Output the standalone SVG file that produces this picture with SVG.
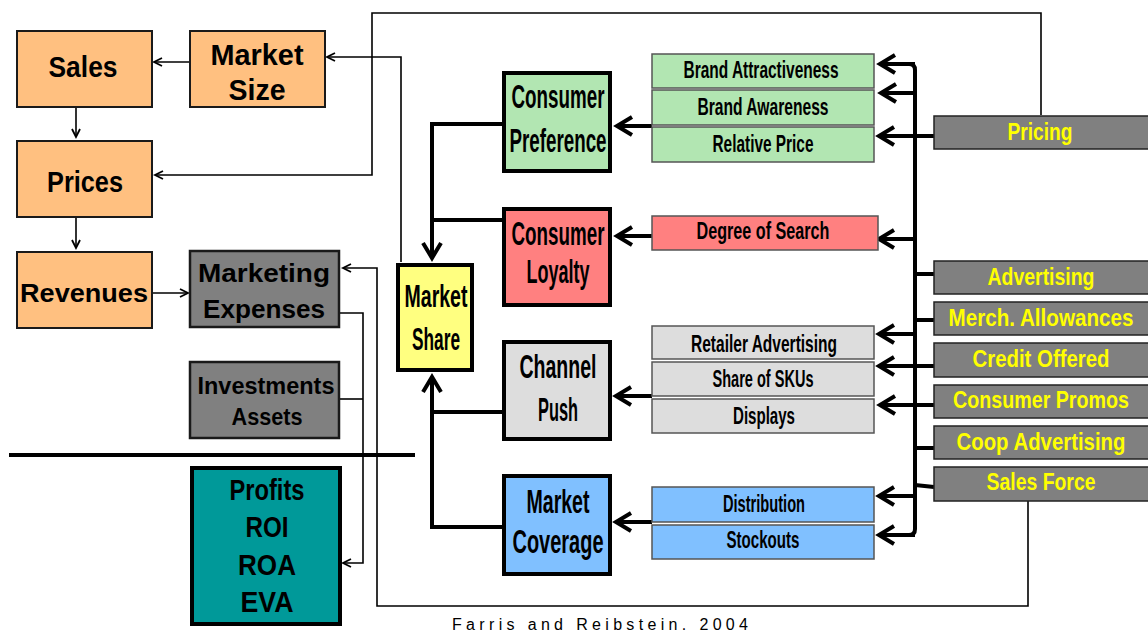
<svg xmlns="http://www.w3.org/2000/svg" width="1148" height="633" viewBox="0 0 1148 633">
  <style>
    .t { font-family: "Liberation Sans", Arial, sans-serif; font-weight: bold; text-anchor: middle; fill: #000; }
    .big { font-size: 29px; }
    .mid { font-size: 26px; }
    .cen { font-size: 34px; }
    .sub { font-size: 23px; }
    .yel { font-size: 24px; fill: #FFFF00; }
    .orange { fill: #FFC080; stroke: #1a1a1a; stroke-width: 2; }
    .grey { fill: #808080; stroke: #1a1a1a; stroke-width: 2.5; }
    .core { stroke: #000; stroke-width: 4; }
    .subbox { stroke: #555; stroke-width: 1.5; }
    .lever { fill: #808080; stroke: #222; stroke-width: 1.5; }
    .thin { fill: none; stroke: #000; stroke-width: 1.6; }
    .thick { fill: none; stroke: #000; stroke-width: 4; }
    .foot { font-family: "Liberation Sans", Arial, sans-serif; font-size: 16px; fill: #000; }
  </style>
  <defs>
    <marker id="ah" markerUnits="userSpaceOnUse" markerWidth="12" markerHeight="12" refX="9" refY="5" orient="auto">
      <path d="M1,1 L9,5 L1,9" fill="none" stroke="#000" stroke-width="1.8"/>
    </marker>
    <marker id="ahb" markerUnits="userSpaceOnUse" markerWidth="22" markerHeight="24" refX="17" refY="11" orient="auto">
      <path d="M2,2 L17,11 L2,20" fill="none" stroke="#000" stroke-width="4"/>
    </marker>
  </defs>

  <rect width="1148" height="633" fill="#fff"/>

  <!-- connectors -->
  <g id="connectors">
    <!-- financial chain -->
    <path class="thin" d="M190,62 H154" marker-end="url(#ah)" stroke-width="2"/>
    <path class="thin" d="M76,107 V137" marker-end="url(#ah)" stroke-width="2"/>
    <path class="thin" d="M76,217 V248" marker-end="url(#ah)" stroke-width="2"/>
    <path class="thin" d="M152,293 H188" marker-end="url(#ah)" stroke-width="2"/>
    <!-- pricing feeds prices -->
    <path class="thin" d="M1041,115 V13 H372 V175 H155" marker-end="url(#ah)"/>
    <!-- market share feeds market size -->
    <path class="thin" d="M401,262 V57 H327" marker-end="url(#ah)"/>
    <!-- sales force feeds marketing expenses -->
    <path class="thin" d="M1028,501 V606 H377 V268 H343" marker-end="url(#ah)"/>
    <!-- expenses and investments feed profits -->
    <path class="thin" d="M339,313 H363 V563 H343" marker-end="url(#ah)"/>
    <path class="thin" d="M339,399 H363"/>
    <!-- separator -->
    <line x1="9" y1="455" x2="415" y2="455" stroke="#000" stroke-width="4"/>

    <!-- drivers into market share -->
    <path class="thick" d="M502,124 H432 V258" marker-end="url(#ahb)"/>
    <path class="thick" d="M502,220 H432"/>
    <path class="thick" d="M502,527 H432 V377" marker-end="url(#ahb)"/>
    <path class="thick" d="M502,412 H432"/>

    <!-- metrics into drivers -->
    <path class="thick" d="M652,126 H617" marker-end="url(#ahb)"/>
    <path class="thick" d="M652,236 H617" marker-end="url(#ahb)"/>
    <path class="thick" d="M652,396 H616" marker-end="url(#ahb)"/>
    <path class="thick" d="M652,522 H616" marker-end="url(#ahb)"/>

    <!-- lever bus -->
    <path class="thick" d="M895,64 H909 Q915,64 915,70 V529 Q915,535 909,535 H895"/>
    <path class="thick" d="M915,64 H880" marker-end="url(#ahb)"/>
    <path class="thick" d="M915,93 H881" marker-end="url(#ahb)"/>
    <path class="thick" d="M915,136 H879" marker-end="url(#ahb)"/>
    <path class="thick" d="M915,239 H879" marker-end="url(#ahb)"/>
    <path class="thick" d="M915,334 H879" marker-end="url(#ahb)"/>
    <path class="thick" d="M915,366 H879" marker-end="url(#ahb)"/>
    <path class="thick" d="M915,405 H880" marker-end="url(#ahb)"/>
    <path class="thick" d="M915,496 H879" marker-end="url(#ahb)"/>
    <path class="thick" d="M915,535 H879" marker-end="url(#ahb)"/>

    <!-- levers onto bus -->
    <path class="thick" d="M915,136 H934"/>
    <path class="thick" d="M915,274 H934"/>
    <path class="thick" d="M915,320 H934"/>
    <path class="thick" d="M915,366 H934"/>
    <path class="thick" d="M915,405 H934"/>
    <path class="thick" d="M915,448 H934"/>
    <path class="thick" d="M915,485 L934,487"/>
  </g>

  <!-- financial outcomes -->
  <g id="sales">
    <rect class="orange" x="17" y="31" width="135" height="76"/>
    <text class="t big" x="83" y="77" textLength="69" lengthAdjust="spacingAndGlyphs">Sales</text>
  </g>
  <g id="market-size">
    <rect class="orange" x="190" y="31" width="135" height="76"/>
    <text class="t big" x="257" y="65" textLength="93" lengthAdjust="spacingAndGlyphs">Market</text>
    <text class="t big" x="257" y="100" textLength="57" lengthAdjust="spacingAndGlyphs">Size</text>
  </g>
  <g id="prices">
    <rect class="orange" x="17" y="141" width="135" height="76"/>
    <text class="t big" x="85" y="192" textLength="76" lengthAdjust="spacingAndGlyphs">Prices</text>
  </g>
  <g id="revenues">
    <rect class="orange" x="17" y="252" width="135" height="76"/>
    <text class="t mid" x="84" y="302" textLength="128" lengthAdjust="spacingAndGlyphs">Revenues</text>
  </g>
  <g id="marketing-expenses">
    <rect class="grey" x="190" y="251" width="149" height="76"/>
    <text class="t mid" x="264" y="282" textLength="132" lengthAdjust="spacingAndGlyphs">Marketing</text>
    <text class="t mid" x="264" y="318" textLength="122" lengthAdjust="spacingAndGlyphs">Expenses</text>
  </g>
  <g id="investments">
    <rect class="grey" x="190" y="362" width="149" height="76"/>
    <text class="t" font-size="23" x="266" y="394" textLength="137" lengthAdjust="spacingAndGlyphs">Investments</text>
    <text class="t" font-size="23" x="267" y="425" textLength="71" lengthAdjust="spacingAndGlyphs">Assets</text>
  </g>
  <g id="profits">
    <rect x="192" y="468" width="148" height="156" fill="#009999" stroke="#000" stroke-width="4"/>
    <text class="t big" x="267" y="500" textLength="75" lengthAdjust="spacingAndGlyphs">Profits</text>
    <text class="t big" x="267" y="537" textLength="43" lengthAdjust="spacingAndGlyphs">ROI</text>
    <text class="t big" x="267" y="575" textLength="58" lengthAdjust="spacingAndGlyphs">ROA</text>
    <text class="t big" x="267" y="612" textLength="53" lengthAdjust="spacingAndGlyphs">EVA</text>
  </g>

  <!-- market share and its drivers -->
  <g id="market-share">
    <rect class="core" x="398" y="265" width="74" height="105" fill="#FFFF80"/>
    <text class="t" font-size="32" x="436" y="307" textLength="63" lengthAdjust="spacingAndGlyphs">Market</text>
    <text class="t" font-size="32" x="436" y="350" textLength="48" lengthAdjust="spacingAndGlyphs">Share</text>
  </g>
  <g id="consumer-preference">
    <rect class="core" x="504" y="73" width="106" height="98" fill="#B2E6B2"/>
    <text class="t cen" x="558" y="108" textLength="93" lengthAdjust="spacingAndGlyphs">Consumer</text>
    <text class="t cen" x="558" y="152" textLength="97" lengthAdjust="spacingAndGlyphs">Preference</text>
  </g>
  <g id="consumer-loyalty">
    <rect class="core" x="504" y="209" width="106" height="96" fill="#FF8080"/>
    <text class="t cen" x="558" y="245" textLength="93" lengthAdjust="spacingAndGlyphs">Consumer</text>
    <text class="t cen" x="558" y="283" textLength="63" lengthAdjust="spacingAndGlyphs">Loyalty</text>
  </g>
  <g id="channel-push">
    <rect class="core" x="504" y="342" width="106" height="97" fill="#DDDDDD"/>
    <text class="t cen" x="558" y="378" textLength="77" lengthAdjust="spacingAndGlyphs">Channel</text>
    <text class="t cen" x="558" y="421" textLength="40" lengthAdjust="spacingAndGlyphs">Push</text>
  </g>
  <g id="market-coverage">
    <rect class="core" x="504" y="476" width="106" height="98" fill="#80C0FF"/>
    <text class="t cen" x="558" y="513" textLength="63" lengthAdjust="spacingAndGlyphs">Market</text>
    <text class="t cen" x="558" y="553" textLength="91" lengthAdjust="spacingAndGlyphs">Coverage</text>
  </g>

  <!-- metrics -->
  <g id="brand-attractiveness">
    <rect class="subbox" x="652" y="54" width="222" height="34" fill="#B2E6B2"/>
    <text class="t sub" x="761" y="78" textLength="155" lengthAdjust="spacingAndGlyphs">Brand Attractiveness</text>
  </g>
  <g id="brand-awareness">
    <rect class="subbox" x="652" y="90" width="222" height="35" fill="#B2E6B2"/>
    <text class="t sub" x="763" y="115" textLength="131" lengthAdjust="spacingAndGlyphs">Brand Awareness</text>
  </g>
  <g id="relative-price">
    <rect class="subbox" x="652" y="127" width="222" height="35" fill="#B2E6B2"/>
    <text class="t sub" x="763" y="152" textLength="101" lengthAdjust="spacingAndGlyphs">Relative Price</text>
  </g>
  <g id="degree-of-search">
    <rect class="subbox" x="652" y="216" width="226" height="34" fill="#FF8080"/>
    <text class="t sub" x="763" y="239" textLength="133" lengthAdjust="spacingAndGlyphs">Degree of Search</text>
  </g>
  <g id="retailer-advertising">
    <rect class="subbox" x="652" y="326" width="222" height="33" fill="#DDDDDD"/>
    <text class="t sub" x="764" y="352" textLength="146" lengthAdjust="spacingAndGlyphs">Retailer Advertising</text>
  </g>
  <g id="share-of-skus">
    <rect class="subbox" x="652" y="362" width="222" height="34" fill="#DDDDDD"/>
    <text class="t sub" x="763" y="387" textLength="101" lengthAdjust="spacingAndGlyphs">Share of SKUs</text>
  </g>
  <g id="displays">
    <rect class="subbox" x="652" y="399" width="222" height="34" fill="#DDDDDD"/>
    <text class="t sub" x="764" y="424" textLength="62" lengthAdjust="spacingAndGlyphs">Displays</text>
  </g>
  <g id="distribution">
    <rect class="subbox" x="652" y="487" width="222" height="35" fill="#80C0FF"/>
    <text class="t sub" x="764" y="512" textLength="82" lengthAdjust="spacingAndGlyphs">Distribution</text>
  </g>
  <g id="stockouts">
    <rect class="subbox" x="652" y="525" width="222" height="34" fill="#80C0FF"/>
    <text class="t sub" x="763" y="548" textLength="73" lengthAdjust="spacingAndGlyphs">Stockouts</text>
  </g>

  <!-- marketing levers -->
  <g id="pricing">
    <rect class="lever" x="934" y="116" width="216" height="33"/>
    <text class="t yel" x="1040" y="140" textLength="65" lengthAdjust="spacingAndGlyphs">Pricing</text>
  </g>
  <g id="advertising">
    <rect class="lever" x="934" y="261" width="216" height="33"/>
    <text class="t yel" x="1041" y="285" textLength="107" lengthAdjust="spacingAndGlyphs">Advertising</text>
  </g>
  <g id="merch-allowances">
    <rect class="lever" x="934" y="302" width="216" height="33"/>
    <text class="t yel" x="1041" y="326" textLength="185" lengthAdjust="spacingAndGlyphs">Merch. Allowances</text>
  </g>
  <g id="credit-offered">
    <rect class="lever" x="934" y="343" width="216" height="34" stroke="#1F3050"/>
    <text class="t yel" x="1041" y="367" textLength="137" lengthAdjust="spacingAndGlyphs">Credit Offered</text>
  </g>
  <g id="consumer-promos">
    <rect class="lever" x="934" y="385" width="216" height="33"/>
    <text class="t yel" x="1041" y="408" textLength="176" lengthAdjust="spacingAndGlyphs">Consumer Promos</text>
  </g>
  <g id="coop-advertising">
    <rect class="lever" x="934" y="426" width="216" height="33"/>
    <text class="t yel" x="1041" y="450" textLength="169" lengthAdjust="spacingAndGlyphs">Coop Advertising</text>
  </g>
  <g id="sales-force">
    <rect class="lever" x="934" y="467" width="216" height="34"/>
    <text class="t yel" x="1041" y="490" textLength="109" lengthAdjust="spacingAndGlyphs">Sales Force</text>
  </g>

  <text class="foot" x="452" y="630" textLength="296" lengthAdjust="spacing">Farris and Reibstein. 2004</text>
</svg>
